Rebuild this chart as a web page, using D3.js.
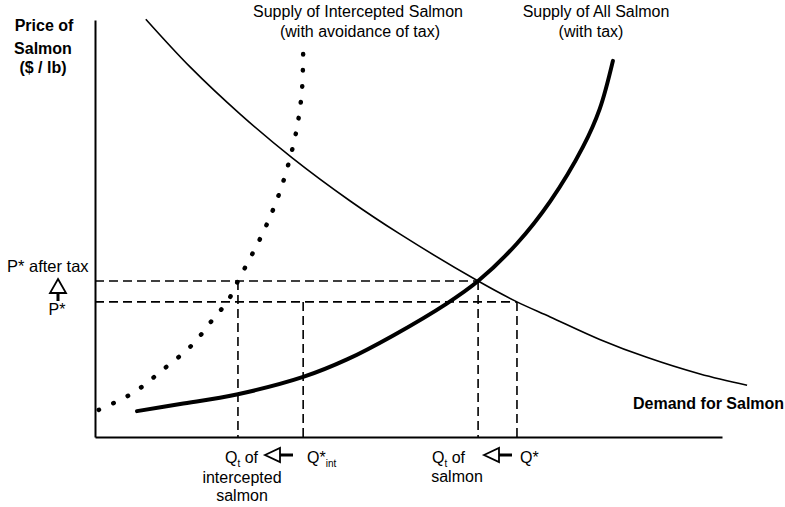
<!DOCTYPE html>
<html>
<head>
<meta charset="utf-8">
<script src="https://cdn.jsdelivr.net/npm/d3@7"></script>
<style>
  body { margin: 0; background: #fff; }
  svg text { font-family: "Liberation Sans", Arial, sans-serif; fill: #000; }
</style>
</head>
<body>
<svg id="chart" width="785" height="507"></svg>
<script>
// curve data, [quantity, price] in chart units (0..100 on each axis)
const demand = [[8.1, 100.2], [15.2, 88.7], [23.1, 77.5], [31.4, 67.0], [40.7, 56.6], [48.6, 48.7],
  [61.1, 37.4], [67.3, 32.4], [72.6, 28.8], [80.5, 23.4], [88.0, 19.1], [96.5, 15.1], [104.0, 12.4]];
const supplyAll = [[6.7, 6.2], [13.6, 7.9], [22.6, 10.2], [33.2, 14.4], [40.2, 18.6], [47.5, 24.3],
  [56.1, 32.0], [61.1, 37.4], [67.3, 46.4], [72.6, 56.5], [77.8, 69.5], [80.5, 78.7], [82.6, 90.2]];
const supplyIntercepted = [[0.6, 6.5], [6.1, 10.6], [10.8, 16.1], [15.5, 22.1], [19.1, 28.8], [21.1, 32.4],
  [22.8, 37.4], [26.6, 48.4], [29.0, 56.8], [30.8, 65.2], [32.2, 74.1], [33.0, 83.0], [33.2, 92.1]];

// price levels and quantities marked with dashed guides
const priceLevels = [37.4, 32.4];          // P* after tax, P*
const guideQty = [22.8, 33.2, 61.1, 67.3]; // Qt intercepted, Q*int, Qt, Q*
const guidePrice = [37.4, 32.4, 37.4, 32.4];

const svg = d3.select('#chart')

const x = d3.scaleLinear().domain([0, 100]).range([95, 722])
const y = d3.scaleLinear().domain([0, 100]).range([437, 20])

// axes, no ticks
svg.append('g')
  .attr('transform', `translate(0, ${y(0)})`)
  .call(d3.axisBottom(x).ticks(0).tickSizeOuter(0))
  .select('.domain').attr('stroke-width', 2)
svg.append('g')
  .attr('transform', `translate(${x(0)}, 0)`)
  .call(d3.axisLeft(y).ticks(0).tickSizeOuter(0))
  .select('.domain').attr('stroke-width', 2)

// dashed guides
const dash = '9 5'
priceLevels.forEach((p, i) => {
  const qEnd = i === 0 ? guideQty[2] : guideQty[3]
  svg.append('line')
    .attr('x1', x(0)).attr('x2', x(qEnd))
    .attr('y1', y(p)).attr('y2', y(p))
    .attr('stroke', '#000').attr('stroke-width', 1.6)
    .attr('stroke-dasharray', dash)
})
guideQty.forEach((q, i) => {
  svg.append('line')
    .attr('x1', x(q)).attr('x2', x(q))
    .attr('y1', y(guidePrice[i])).attr('y2', y(0))
    .attr('stroke', '#000').attr('stroke-width', 1.6)
    .attr('stroke-dasharray', dash)
})

const line = d3.line()
  .x(d => x(d[0]))
  .y(d => y(d[1]))
  .curve(d3.curveCatmullRom)

svg.append('path').datum(demand)
  .attr('d', line).attr('fill', 'none')
  .attr('stroke', '#000').attr('stroke-width', 1.6)

svg.append('path').datum(supplyAll)
  .attr('d', line).attr('fill', 'none')
  .attr('stroke', '#000').attr('stroke-width', 4)
  .attr('stroke-linecap', 'round')

svg.append('path').datum(supplyIntercepted)
  .attr('d', line).attr('fill', 'none')
  .attr('stroke', '#000').attr('stroke-width', 4.5)
  .attr('stroke-linecap', 'round')
  .attr('stroke-dasharray', '0.5 15.5')

// labels
function label(txt, xp, yp, opts = {}) {
  return svg.append('text')
    .attr('x', xp).attr('y', yp)
    .attr('text-anchor', opts.anchor || 'start')
    .style('font-size', (opts.size || 16) + 'px')
    .style('font-weight', opts.bold ? 'bold' : 'normal')
    .text(txt)
}

label('Price of', 44, 31, {anchor: 'middle', bold: true})
label('Salmon', 43, 54, {anchor: 'middle', bold: true})
label('($ / lb)', 43, 73, {anchor: 'middle', bold: true})

label('Supply of Intercepted Salmon', 358, 17, {anchor: 'middle'})
label('(with avoidance of tax)', 360, 37, {anchor: 'middle'})
label('Supply of All Salmon', 596, 17, {anchor: 'middle'})
label('(with tax)', 591, 37, {anchor: 'middle'})

label('Demand for Salmon', 633, 409, {bold: true})

label('P* after tax', 7, 272, {size: 16.5})
label('P*', 57, 315, {anchor: 'middle'})

// hollow arrows
function upArrow(cx, tipY) {
  svg.append('path')
    .attr('d', `M${cx},${tipY} L${cx + 8},${tipY + 14} L${cx - 8},${tipY + 14} Z`)
    .attr('fill', '#fff').attr('stroke', '#000').attr('stroke-width', 1.8)
  svg.append('line')
    .attr('x1', cx).attr('x2', cx).attr('y1', tipY + 14).attr('y2', tipY + 22)
    .attr('stroke', '#000').attr('stroke-width', 3)
}
function leftArrow(tipX, cy) {
  svg.append('path')
    .attr('d', `M${tipX},${cy} L${tipX + 15},${cy - 7} L${tipX + 15},${cy + 7} Z`)
    .attr('fill', '#fff').attr('stroke', '#000').attr('stroke-width', 1.8)
  svg.append('line')
    .attr('x1', tipX + 15).attr('x2', tipX + 28).attr('y1', cy).attr('y2', cy)
    .attr('stroke', '#000').attr('stroke-width', 3)
}
upArrow(58, 279)

// quantity labels under the x axis
function qLabel(xp, yp, main, sub, after) {
  const t = label('', xp, yp)
  t.append('tspan').text(main)
  t.append('tspan').attr('dy', 4).style('font-size', '10px').text(sub)
  if (after) t.append('tspan').attr('dy', -4).text(after)
  return t
}
qLabel(225, 463, 'Q', 't', ' of')
leftArrow(265, 455)
qLabel(307, 463, 'Q*', 'int')
label('intercepted', 242, 483, {anchor: 'middle'})
label('salmon', 242, 501, {anchor: 'middle'})

qLabel(432, 463, 'Q', 't', ' of')
leftArrow(484, 455)
label('Q*', 520, 463)
label('salmon', 457, 482, {anchor: 'middle'})
</script>
</body>
</html>
